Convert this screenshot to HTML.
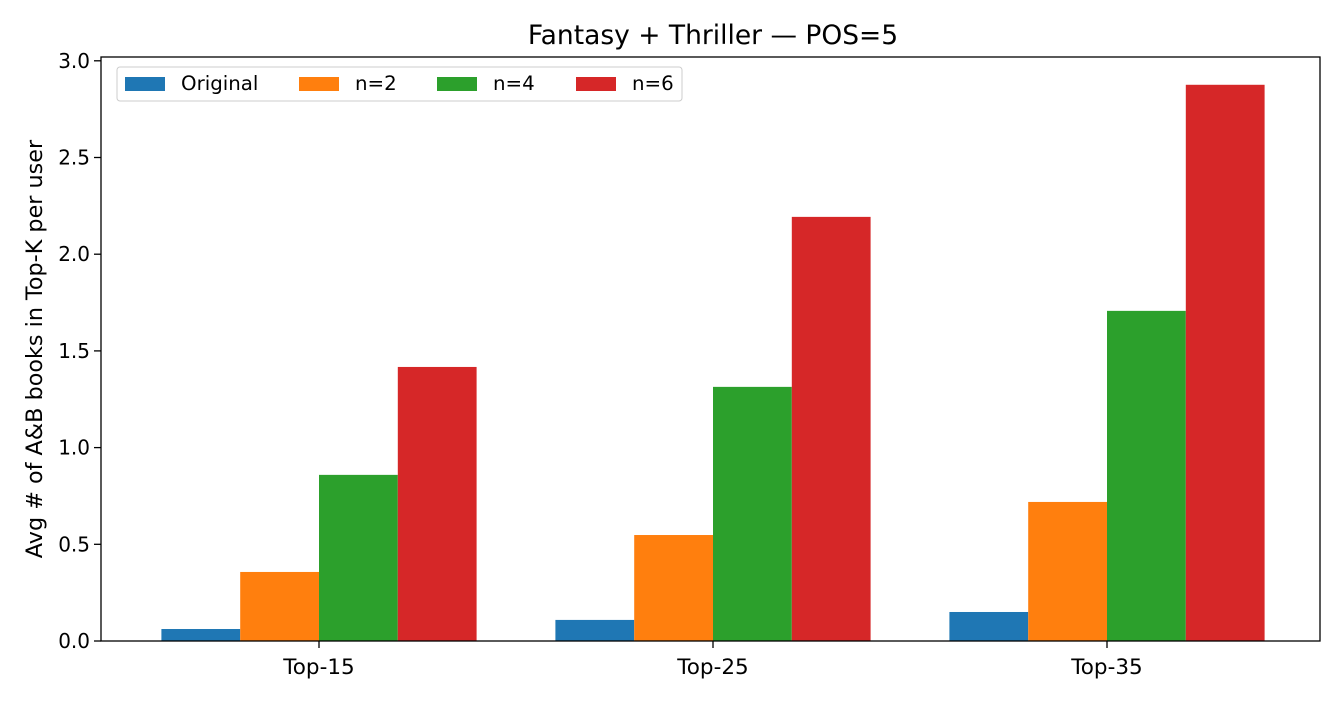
<!DOCTYPE html>
<html><head><meta charset="utf-8"><style>
body{margin:0;background:#fff;}
svg text{font-family:"DejaVu Sans","Liberation Sans",sans-serif;fill:#000;}
</style></head><body>
<svg id="chart" width="1344" height="704">
<text x="713" y="44" font-size="26.5" text-anchor="middle">Fantasy + Thriller — POS=5</text>
<text transform="translate(42,349) rotate(-90)" font-size="22.3" text-anchor="middle">Avg # of A&amp;B books in Top-K per user</text>
<g id="bars"></g>
<g id="axes"></g>
<rect x="101" y="57" width="1219" height="584" fill="none" stroke="#000" stroke-width="1.3"/>
<g>
<rect x="117" y="67" width="565" height="34" rx="3" fill="#fff" stroke="#ccc"/>
<g id="legend"></g>
</g>
</svg>
<script>
const categories=["Top-15","Top-25","Top-35"];
const seriesNames=["Original","n=2","n=4","n=6"];
const colors=["#1f77b4","#ff7f0e","#2ca02c","#d62728"];
const original=[0.062,0.109,0.15];
const n2=[0.357,0.548,0.719];
const n4=[0.859,1.314,1.707];
const n6=[1.417,2.193,2.876];
const yTicks=[0,0.5,1.0,1.5,2.0,2.5,3.0];
const yTickLabels=["0.0","0.5","1.0","1.5","2.0","2.5","3.0"];
const series=[original,n2,n4,n6];
const NS="http://www.w3.org/2000/svg";
const y0=641,pxPerUnit=193.4,bw=78.8;
const yScale=v=>y0-v*pxPerUnit;
const xCenter=i=>319+i*394;
function mk(tag,attrs,parent){const e=document.createElementNS(NS,tag);for(const k in attrs)e.setAttribute(k,attrs[k]);parent.appendChild(e);return e;}
const bars=document.getElementById('bars'),axes=document.getElementById('axes'),leg=document.getElementById('legend');
series.forEach((vals,s)=>{vals.forEach((v,i)=>{
 const x=xCenter(i)+(s-2)*bw;
 const r=mk('rect',{x:x,y:yScale(v),width:bw,height:y0-yScale(v),fill:colors[s]},bars);
 
 
});});
yTicks.forEach((t,i)=>{
 const y=yScale(t);
 const l=mk('line',{x1:94,x2:101,y1:y,y2:y,stroke:'#000','stroke-width':1.3},axes);
 
 
 const tx=mk('text',{x:90,y:y+7,'font-size':20,'text-anchor':'end'},axes);
 tx.textContent=yTickLabels[i];
 
 
});
categories.forEach((c,i)=>{
 const x=xCenter(i);
 const l=mk('line',{x1:x,x2:x,y1:641,y2:648,stroke:'#000','stroke-width':1.3},axes);
 
 
 const tx=mk('text',{x:x,y:674,'font-size':21.5,'text-anchor':'middle'},axes);
 tx.textContent=c;
 
 
});
const legX=[125,299,437,576];
seriesNames.forEach((n,s)=>{
 const r=mk('rect',{x:legX[s],y:77,width:40,height:14,fill:colors[s]},leg);
 
 
 const t=mk('text',{x:legX[s]+56,y:90,'font-size':19.8},leg);
 t.textContent=n;
 
 
});
</script>
</body></html>
